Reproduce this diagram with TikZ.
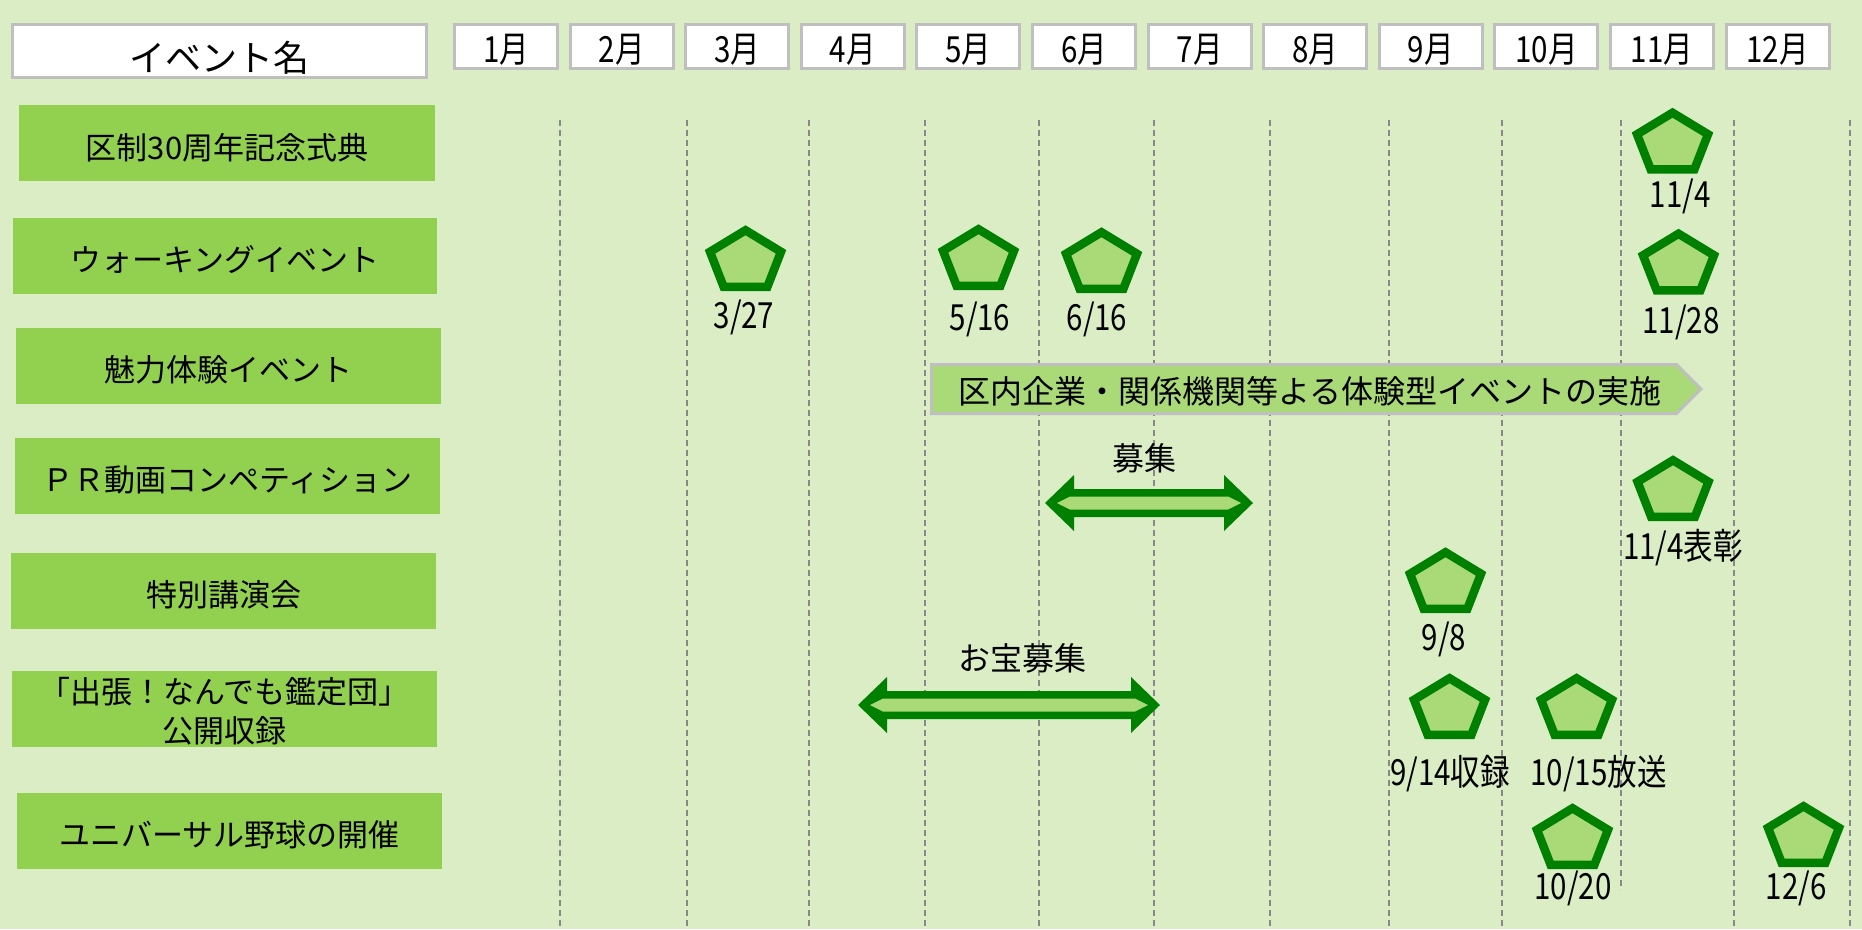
\documentclass[tikz,border=0pt]{standalone}
\usepackage{fontspec}
\setmainfont{Noto Sans CJK JP}
\newfontfamily\jpfont{Noto Sans CJK JP}
\newfontfamily\condfont[FakeStretch=0.82]{Noto Sans CJK JP}
\definecolor{bgc}{HTML}{DAEDC5}
\definecolor{rowgreen}{HTML}{92D050}
\definecolor{ltgreen}{HTML}{AAD977}
\definecolor{dkgreen}{HTML}{008000}
\definecolor{boxgray}{HTML}{BFBFBF}
\definecolor{dashgray}{HTML}{888888}
\newcommand\mydblarrow[3]{%
  \fill[dkgreen] (#1,#3) -- ({#1+29},{#3-28}) -- ({#1+29},{#3-14}) -- ({#2-29},{#3-14}) -- ({#2-29},{#3-28}) -- (#2,#3) -- ({#2-29},{#3+28}) -- ({#2-29},{#3+14}) -- ({#1+29},{#3+14}) -- ({#1+29},{#3+28}) -- cycle;
  \fill[ltgreen] ({#1+12},#3) -- ({#1+25},{#3-6.5}) -- ({#2-25},{#3-6.5}) -- ({#2-12},#3) -- ({#2-25},{#3+6.5}) -- ({#1+25},{#3+6.5}) -- cycle;}
\tikzset{
  rowlabel/.style={fill=rowgreen, minimum width=425pt, minimum height=76pt, inner sep=0pt, align=center, font=\jpfont\fontsize{31}{39}\selectfont},
  rowtext/.style={inner sep=0pt, align=center, font=\jpfont\fontsize{31}{39}\selectfont},
  headbox/.style={draw=boxgray, line width=3pt, fill=white, inner sep=0pt},
  monthbox/.style={headbox, minimum width=103pt, minimum height=44pt, text height=31pt, text depth=0pt, font=\condfont\fontsize{36}{40}\selectfont},
  datelabel/.style={anchor=base, inner sep=0pt, font=\condfont\fontsize{36}{40}\selectfont},
  plainlabel/.style={inner sep=0pt, font=\jpfont\fontsize{32}{38}\selectfont},
  vline/.style={draw=dashgray, line width=1.4pt, dash pattern=on 6pt off 4pt},
  pentpic/.pic={\path[draw=dkgreen, fill=ltgreen, line width=8.5pt, line join=miter]
     (0,-27.75) -- (35.5,-6.2) -- (21.9,28.75) -- (-21.9,28.75) -- (-35.5,-6.2) -- cycle;}
}
\begin{document}
\begin{tikzpicture}[x=1pt, y=-1pt]
\fill[bgc] (0,0) rectangle (1862,929);
\useasboundingbox (0,0) rectangle (1862,929);
% dashed month separators
\foreach \xx in {560,687,809,925,1039,1154,1270,1389,1502,1734,1850}
  \draw[vline] (\xx,120) -- (\xx,929);
\draw[vline] (1621,120) -- (1621,890);
% header
\node[headbox, minimum width=414pt, minimum height=53pt, text height=40pt, text depth=0pt,
      font=\jpfont\fontsize{36}{40}\selectfont] (hdr) at (219.5,51) {イベント名};
\foreach \i/\m in {1/1月,2/2月,3/3月,4/4月,5/5月,6/6月,7/7月,8/8月,9/9月,10/10月,11/11月,12/12月}
  \node[monthbox] (m\i) at ({506+115.6*(\i-1)},46.5) {\m};
% row labels
\node[rowlabel, minimum width=416pt] (r1) at (227,143) {};
\node[rowlabel, minimum width=424pt] (r2) at (225,256) {};
\node[rowlabel] (r3) at (228.5,366) {};
\node[rowlabel] (r4) at (227.5,476) {};
\node[rowlabel] (r5) at (223.5,591) {};
\node[rowlabel] (r6) at (224.5,709) {};
\node[rowlabel] (r7) at (229.5,831) {};
\node[rowtext] (t1) at ([yshift=-5pt]r1.center) {区制30周年記念式典};
\node[rowtext] (t2) at ([yshift=-4pt]r2.center) {ウォーキングイベント};
\node[rowtext] (t3) at ([yshift=-4pt]r3.center) {魅力体験イベント};
\node[rowtext] (t4) at ([yshift=-4pt]r4.center) {ＰＲ動画コンペティション};
\node[rowtext] (t5) at ([yshift=-4pt]r5.center) {特別講演会};
\node[rowtext] (t6) at ([yshift=-2pt]r6.center) {「出張！なんでも鑑定団」\\公開収録};
\node[rowtext] (t7) at ([yshift=-4pt]r7.center) {ユニバーサル野球の開催};
% long period arrow
\path[fill=ltgreen, draw=boxgray, line width=3pt, line join=miter]
  (931.5,364.5) -- (1676.4,364.5) -- (1701,389) -- (1676.4,413.5) -- (931.5,413.5) -- cycle;
\node[plainlabel] (exp) at (1310,391) {区内企業・関係機関等よる体験型イベントの実施};
% double arrows
\mydblarrow{1045}{1253}{503}
\node[plainlabel] (boshu) at (1144,458) {募集};
\mydblarrow{858}{1160}{705}
\node[plainlabel] (otakara) at (1022,658) {お宝募集};
% pentagons
\pic at (1672.5,140.5) {pentpic};
\pic at (745.5,258) {pentpic};
\pic at (978.5,257) {pentpic};
\pic at (1101.5,260) {pentpic};
\pic at (1678.5,261.5) {pentpic};
\pic at (1673,488) {pentpic};
\pic at (1445.5,580) {pentpic};
\pic at (1449.5,706) {pentpic};
\pic at (1576.5,706) {pentpic};
\pic at (1572.5,836) {pentpic};
\pic at (1803.5,834) {pentpic};
% date labels
\node[datelabel] (d1) at (1680,207) {11/4};
\node[datelabel] (d2) at (744,328) {3/27};
\node[datelabel] (d3) at (980,330) {5/16};
\node[datelabel] (d4) at (1097,330) {6/16};
\node[datelabel] (d5) at (1681,333) {11/28};
\node[datelabel] (d6) at (1683,559) {11/4表彰};
\node[datelabel] (d7) at (1444,650) {9/8};
\node[datelabel] (d8) at (1450,785) {9/14収録};
\node[datelabel] (d9) at (1598.5,785) {10/15放送};
\node[datelabel] (d10) at (1573,899) {10/20};
\node[datelabel] (d11) at (1796,899) {12/6};
\end{tikzpicture}
\end{document}
